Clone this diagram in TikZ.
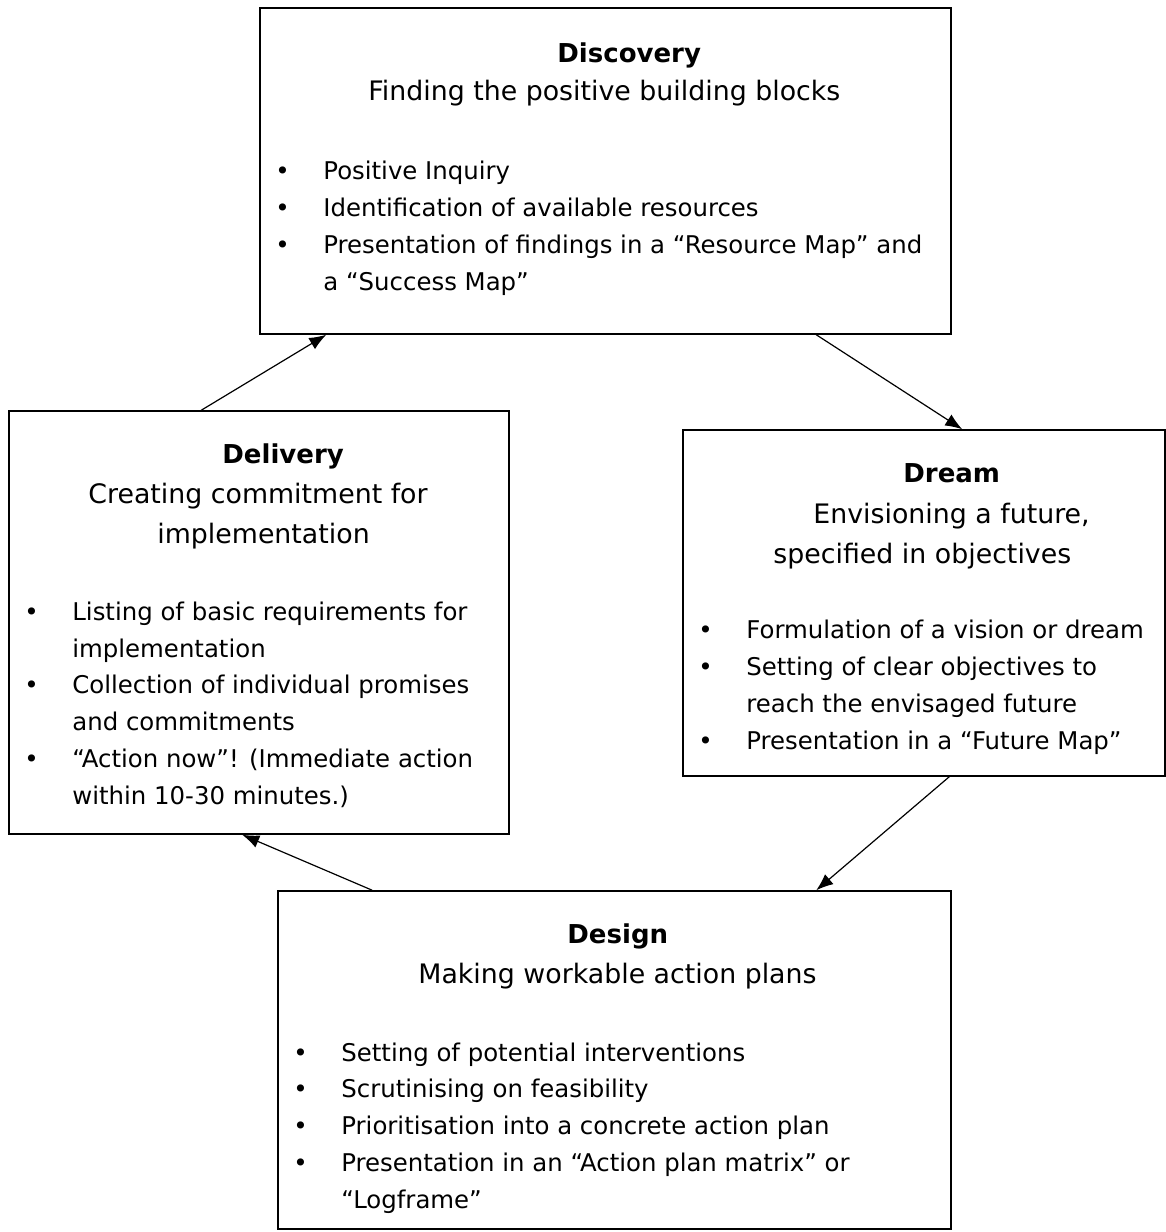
\documentclass[tikz,border=0pt]{standalone}
\usepackage{fontspec}
\setmainfont{DejaVu Sans}
\usetikzlibrary{arrows.meta}
\newcommand{\bul}{\makebox[24pt][l]{•}}
\newcommand{\ind}{\hspace*{24pt}}

\tikzset{
  box/.style={draw, line width=0.75pt, inner sep=0pt},
  phase/.style={anchor=base west, inner sep=0pt, font=\fontsize{13}{16}\selectfont\bfseries},
  aim/.style={anchor=base west, inner sep=0pt, font=\fontsize{13.4}{20}\selectfont},
  % lists are placed by the baseline of their last line
  items/.style={anchor=base west, inner sep=0pt, align=left, font=\fontsize{12.2}{18.35}\selectfont},
  flow/.style={-{Latex[length=8.5pt,width=6.5pt]}, line width=0.6pt},
}

\begin{document}
\begin{tikzpicture}[x=0.5pt, y=-0.5pt]
    \useasboundingbox (0,0) rectangle (1166,1232);

    % Discovery
    \node[box, minimum width=345.5pt, minimum height=163pt] (disc) at (605.5,171) {};
    \node[phase] (disct) at (557,62) {Discovery};
    \node[aim] (discs) at (368,100) {Finding the positive building blocks};
    \node[items] (discl) at (275,290) {\bul Positive Inquiry\\ \bul Identification of available resources\\ \bul Presentation of findings in a “Resource Map” and\\ \ind a “Success Map”};

    % Delivery
    \node[box, minimum width=250pt, minimum height=211.5pt] (deliv) at (259,622.5) {};
    \node[phase] (delivt) at (222,463) {Delivery};
    \node[aim] (delivs1) at (88,503) {Creating commitment for};
    \node[aim] (delivs2) at (157,543) {implementation};
    \node[items] (delivl) at (24,804) {\bul Listing of basic requirements for\\ \ind implementation\\ \bul Collection of individual promises\\ \ind and commitments\\ \bul “Action now”! (Immediate action\\ \ind within 10-30 minutes.)};

    % Dream
    \node[box, minimum width=241pt, minimum height=173pt] (dream) at (924,603) {};
    \node[phase] (dreamt) at (903,482) {Dream};
    \node[aim] (dreams1) at (813,523) {Envisioning a future,};
    \node[aim] (dreams2) at (773,563) {specified in objectives};
    \node[items] (dreaml) at (698,749) {\bul Formulation of a vision or dream\\ \bul Setting of clear objectives to\\ \ind reach the envisaged future\\ \bul Presentation in a “Future Map”};

    % Design
    \node[box, minimum width=336.5pt, minimum height=169pt] (design) at (614.5,1060) {};
    \node[phase] (designt) at (567,943) {Design};
    \node[aim] (designs) at (418,983) {Making workable action plans};
    \node[items] (designl) at (293,1208) {\bul Setting of potential interventions\\ \bul Scrutinising on feasibility\\ \bul Prioritisation into a concrete action plan\\ \bul Presentation in an “Action plan matrix” or\\ \ind “Logframe”};

    % cycle
    \draw[flow] ([xshift=96.5pt]deliv.north west) -- ([xshift=33.5pt]disc.south west);
    \draw[flow] ([xshift=278.5pt]disc.south west) -- ([xshift=140pt]dream.north west);
    \draw[flow] ([xshift=133.5pt]dream.south west) -- ([xshift=269.5pt]design.north west);
    \draw[flow] ([xshift=47.5pt]design.north west) -- ([xshift=117pt]deliv.south west);
\end{tikzpicture}
\end{document}
